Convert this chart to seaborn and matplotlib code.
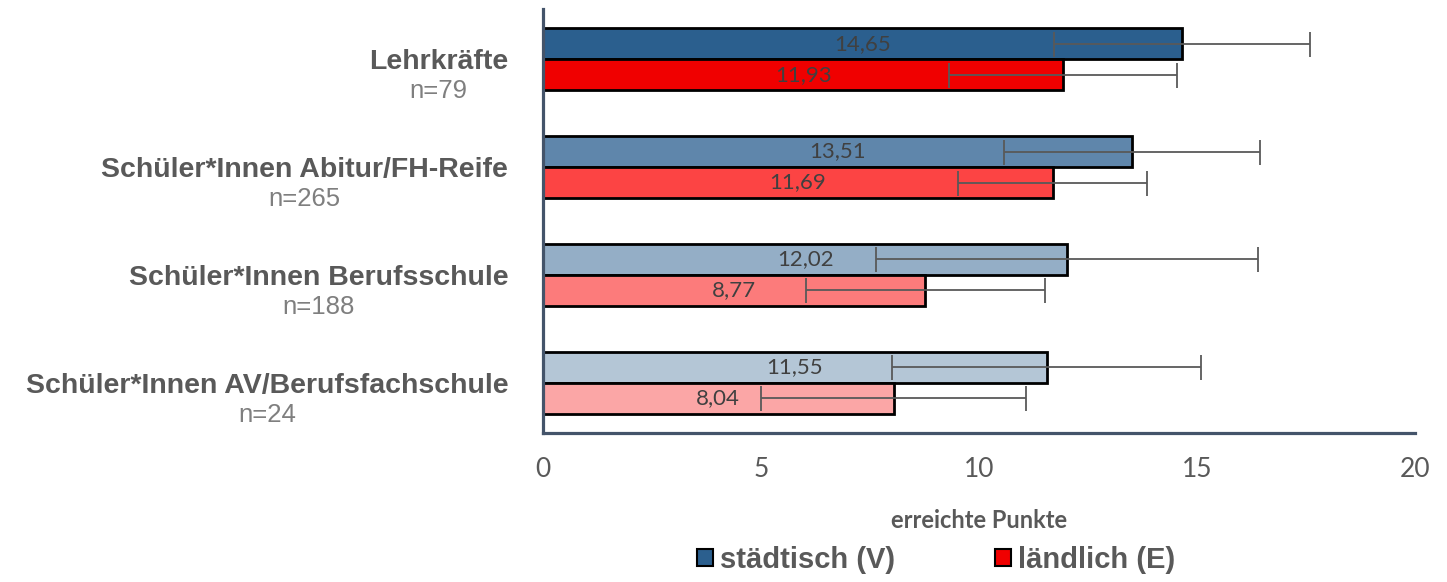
import matplotlib
matplotlib.use("Agg")
import matplotlib.pyplot as plt
import matplotlib.patches as mpatches
import numpy as np
import pandas as pd
import seaborn as sns

# Daten
kategorien = ['Lehrkräfte', 'Schüler*Innen Abitur/FH-Reife',
              'Schüler*Innen Berufsschule', 'Schüler*Innen AV/Berufsfachschule']
stichprobe = ['n=79', 'n=265', 'n=188', 'n=24']
gruppen = ['städtisch (V)', 'ländlich (E)']
werte_staedtisch = [14.65, 13.51, 12.02, 11.55]
werte_laendlich = [11.93, 11.69, 8.77, 8.04]
sd_staedtisch = [2.94, 2.93, 4.38, 3.55]
sd_laendlich = [2.62, 2.17, 2.74, 3.04]

farben_staedtisch = ['#2B5F8E', '#5F86AB', '#94AEC6', '#B4C6D6']
farben_laendlich = ['#F00000', '#FC4444', '#FC7B7B', '#FBA6A6']

df = pd.DataFrame({
    'Kategorie': kategorien * 2,
    'Gruppe': [gruppen[0]] * 4 + [gruppen[1]] * 4,
    'Punkte': werte_staedtisch + werte_laendlich,
})

sns.set_theme(style='white')
plt.rcParams['font.family'] = ['Liberation Sans', 'DejaVu Sans']

grau = '#595959'
achse = '#44546A'
lato = ['Lato', 'DejaVu Sans']

fig = plt.figure(figsize=(14.47, 5.82), dpi=100)
ax = fig.add_axes([543 / 1447, 1 - 433 / 582, (1415 - 543) / 1447, (433 - 9) / 582])

sns.barplot(data=df, y='Kategorie', x='Punkte', hue='Gruppe', orient='h',
            palette=[farben_staedtisch[0], farben_laendlich[0]],
            width=0.575, edgecolor='black', linewidth=2, errorbar=None,
            legend=False, ax=ax)

werte = [werte_staedtisch, werte_laendlich]
sds = [sd_staedtisch, sd_laendlich]
farben = [farben_staedtisch, farben_laendlich]
for cont, w, sd, fb in zip(ax.containers, werte, sds, farben):
    ys = []
    for p, c in zip(cont.patches, fb):
        p.set_facecolor(c)
        ys.append(p.get_y() + p.get_height() / 2)
    ax.bar_label(cont, labels=[f'{v:.2f}'.replace('.', ',') for v in w],
                 label_type='center', fontsize=16, color='#404040', family=lato)
    ax.errorbar(w, ys, xerr=sd, fmt='none', ecolor=grau, elinewidth=1.3,
                capsize=9, capthick=1.3, zorder=5)

ax.set_xlim(0, 20)
ax.set_xticks([0, 5, 10, 15, 20])
ax.set_xlabel('erreichte Punkte', fontsize=17, fontweight='bold', color=grau,
              family=lato, labelpad=20)
ax.set_ylabel('')

sns.despine(ax=ax, top=True, right=True)
for s in ['left', 'bottom']:
    ax.spines[s].set_color(achse)
    ax.spines[s].set_linewidth(2.3)

ax.tick_params(axis='x', direction='out', length=5, width=2.3, color=achse,
               labelsize=19, labelcolor=grau, pad=12)
for t in ax.get_xticklabels():
    t.set_family(lato)
ax.tick_params(axis='y', length=0, pad=25, labelsize=20.5, labelcolor=grau)
for t in ax.get_yticklabels():
    t.set_fontweight('bold')

# n= unter den Kategorienamen
fig.canvas.draw()
inv = fig.transFigure.inverted()
for i, (t, n) in enumerate(zip(ax.get_yticklabels(), stichprobe)):
    bb = t.get_window_extent()
    xc = inv.transform(((bb.x0 + bb.x1) / 2, 0))[0]
    ax.annotate(n, xy=(xc, i), xycoords=('figure fraction', 'data'),
                xytext=(0, -23), textcoords='offset points',
                ha='center', va='center', fontsize=18.5, color='#7F7F7F',
                annotation_clip=False)

handles = [mpatches.Patch(facecolor=farben_staedtisch[0], edgecolor='black', linewidth=1.5),
           mpatches.Patch(facecolor=farben_laendlich[0], edgecolor='black', linewidth=1.5)]
leg = fig.legend(handles, gruppen, loc='center', bbox_to_anchor=(936 / 1447, 1 - 560 / 582),
                 ncol=2, frameon=False, handlelength=0.55, handleheight=0.55,
                 handletextpad=0.25, columnspacing=3.4,
                 prop={'weight': 'bold', 'size': 21})
for t in leg.get_texts():
    t.set_color(grau)

fig.savefig('out.png', dpi=100)
